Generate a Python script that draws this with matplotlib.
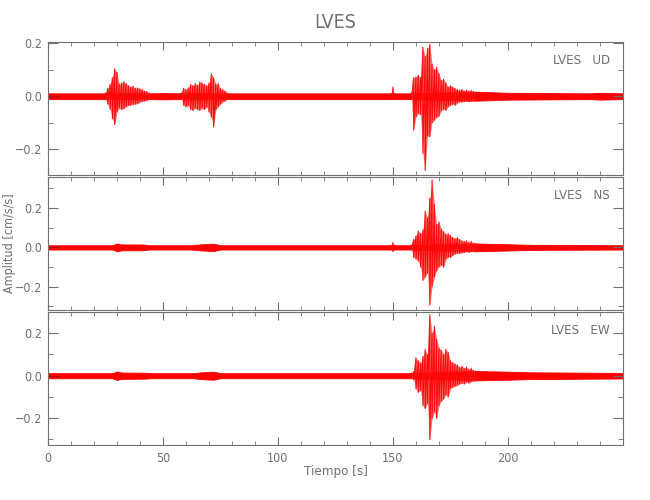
import numpy as np
import matplotlib
matplotlib.use("Agg")
import matplotlib.pyplot as plt
from matplotlib.ticker import MultipleLocator, FixedLocator

plt.rcParams['font.family'] = ['DejaVu Sans']
plt.rcParams['font.stretch'] = 'condensed'
plt.rcParams['font.weight'] = 'light'

station = "LVES"
components = ["UD", "NS", "EW"]
ylims = [(-0.298, 0.207), (-0.319, 0.361), (-0.326, 0.302)]
time_ticks = [0, 50, 100, 150, 200]

# background noise band (half width), per component
ud_noise_t = [0, 25, 44, 50, 58, 78, 158, 186, 200, 236, 240, 244, 250]
ud_noise_a = [0.011, 0.011, 0.011, 0.012, 0.011, 0.011, 0.011, 0.017, 0.013, 0.011, 0.013, 0.012, 0.011]
ns_noise_t = [0, 28, 30, 32, 41, 44, 62, 67, 72, 75, 158, 186, 200, 210, 250]
ns_noise_a = [0.011, 0.011, 0.02, 0.015, 0.015, 0.011, 0.011, 0.016, 0.019, 0.011, 0.011, 0.02, 0.016, 0.013, 0.011]
ew_noise_t = [0, 28, 30, 32, 42, 45, 63, 68, 72, 75, 158, 186, 200, 210, 250]
ew_noise_a = [0.012, 0.012, 0.02, 0.015, 0.014, 0.012, 0.012, 0.017, 0.019, 0.012, 0.012, 0.022, 0.019, 0.016, 0.013]

# peak-to-peak envelope of the waveform (max / min per second)
ud_t = [25, 26, 27, 28, 29, 30, 31, 32, 33, 34, 35, 36, 37, 38, 39, 40, 41, 42, 43, 44,
        58, 59, 60, 61, 62, 63, 64, 65, 66, 67, 68, 69, 70, 71, 72, 73, 74, 75, 76, 77, 78,
        149.5, 150, 150.5,
        158, 159, 160, 161, 162, 163, 164, 165, 166, 167, 168, 169, 170, 171, 172, 173, 174,
        175, 176, 177, 178, 179, 180, 181, 182, 183, 184, 185, 186]
ud_hi = [0.012, 0.03, 0.045, 0.07, 0.104, 0.09, 0.045, 0.05, 0.055, 0.048, 0.04, 0.035, 0.038, 0.03, 0.032, 0.028, 0.025, 0.02, 0.018, 0.012,
         0.012, 0.03, 0.025, 0.032, 0.045, 0.04, 0.048, 0.042, 0.054, 0.05, 0.045, 0.04, 0.05, 0.085, 0.07, 0.045, 0.048, 0.03, 0.025, 0.02, 0.012,
         0.01, 0.035, 0.01,
         0.012, 0.07, 0.073, 0.08, 0.07, 0.186, 0.15, 0.18, 0.196, 0.12, 0.10, 0.11, 0.085, 0.06, 0.065, 0.05, 0.035,
         0.04, 0.035, 0.03, 0.025, 0.023, 0.026, 0.02, 0.023, 0.02, 0.022, 0.018, 0.015]
ud_lo = [-0.012, -0.03, -0.05, -0.085, -0.107, -0.06, -0.045, -0.05, -0.046, -0.04, -0.035, -0.034, -0.03, -0.03, -0.028, -0.022, -0.02, -0.018, -0.015, -0.012,
         -0.012, -0.035, -0.04, -0.035, -0.05, -0.053, -0.045, -0.05, -0.053, -0.045, -0.05, -0.04, -0.06, -0.08, -0.116, -0.05, -0.04, -0.03, -0.021, -0.018, -0.012,
         -0.01, -0.01, -0.01,
         -0.012, -0.128, -0.078, -0.065, -0.07, -0.216, -0.28, -0.15, -0.153, -0.10, -0.09, -0.08, -0.075, -0.055, -0.05, -0.053, -0.04,
         -0.034, -0.03, -0.034, -0.025, -0.021, -0.022, -0.02, -0.018, -0.021, -0.018, -0.016, -0.015]

ns_t = [149.5, 150, 150.5,
        158, 159, 160, 161, 162, 163, 164, 165, 166, 167, 168, 169, 170, 171, 172, 173, 174,
        175, 176, 177, 178, 179, 180, 181, 182, 183, 184, 185, 186]
ns_hi = [0.01, 0.025, 0.01,
         0.012, 0.04, 0.059, 0.084, 0.07, 0.09, 0.185, 0.15, 0.25, 0.344, 0.218, 0.117, 0.13, 0.092, 0.08, 0.067, 0.07,
         0.06, 0.05, 0.045, 0.05, 0.04, 0.034, 0.03, 0.034, 0.025, 0.03, 0.022, 0.02]
ns_lo = [-0.01, -0.022, -0.01,
         -0.012, -0.05, -0.059, -0.07, -0.10, -0.168, -0.151, -0.13, -0.294, -0.2, -0.15, -0.118, -0.10, -0.09, -0.1, -0.06, -0.05,
         -0.05, -0.04, -0.034, -0.03, -0.03, -0.028, -0.025, -0.022, -0.025, -0.02, -0.02, -0.017]

ew_t = [158, 159, 160, 161, 162, 163, 164, 165, 166, 167, 168, 169, 170, 171, 172, 173, 174,
        175, 176, 177, 178, 179, 180, 181, 182, 183, 184, 185, 186]
ew_hi = [0.012, 0.02, 0.085, 0.07, 0.06, 0.09, 0.124, 0.1, 0.287, 0.2, 0.233, 0.17, 0.13, 0.12, 0.1, 0.124, 0.11,
         0.07, 0.062, 0.055, 0.05, 0.039, 0.045, 0.035, 0.04, 0.03, 0.035, 0.025, 0.023]
ew_lo = [-0.012, -0.02, -0.062, -0.078, -0.07, -0.14, -0.155, -0.13, -0.30, -0.2, -0.17, -0.2, -0.14, -0.12, -0.108, -0.09, -0.1,
         -0.06, -0.054, -0.05, -0.045, -0.039, -0.035, -0.039, -0.03, -0.035, -0.028, -0.025, -0.023]

noise = [(ud_noise_t, ud_noise_a), (ns_noise_t, ns_noise_a), (ew_noise_t, ew_noise_a)]
waves = [(ud_t, ud_hi, ud_lo), (ns_t, ns_hi, ns_lo), (ew_t, ew_hi, ew_lo)]

fig = plt.figure(figsize=(6.5, 5), dpi=100)
gray = "#707070"
left, width = 0.0738, 0.8846
bottoms = [0.65, 0.38, 0.11]
height = 0.267

for i in range(3):
    ax = fig.add_axes([left, bottoms[i], width, height])
    nt, na = noise[i]
    na = np.array(na)
    ax.fill_between(nt, -na, na, color="red", lw=0.6, edgecolor="red")

    t, hi, lo = (np.array(a) for a in waves[i])
    # draw each burst on its own: light envelope + zig-zag max/min
    cuts = np.where(np.diff(t) > 2)[0] + 1
    for ts, hs, ls in zip(np.split(t, cuts), np.split(hi, cuts), np.split(lo, cuts)):
        ax.fill_between(ts, ls, hs, color="#ff3a3a", alpha=0.7, lw=0)
        ax.plot(np.repeat(ts, 2), np.column_stack([hs, ls]).ravel(),
                color="red", lw=0.8, alpha=0.9)
    ax.axhline(0, color="#b00000", lw=0.6, xmax=0.02)

    ax.set_xlim(0, 250)
    ax.set_ylim(*ylims[i])
    ax.xaxis.set_major_locator(FixedLocator(time_ticks))
    ax.xaxis.set_minor_locator(MultipleLocator(10))
    ax.yaxis.set_major_locator(MultipleLocator(0.2))
    ax.yaxis.set_minor_locator(MultipleLocator(0.1))
    ax.tick_params(which="both", direction="in", top=True, right=True, color=gray,
                   labelcolor=gray, labelsize=9)
    ax.tick_params(axis="x", which="major", length=5.5, pad=5)
    ax.tick_params(axis="x", which="minor", length=3)
    ax.tick_params(axis="y", which="major", length=7, pad=4)
    ax.tick_params(axis="y", which="minor", length=3.5)
    for s in ax.spines.values():
        s.set_color(gray)
        s.set_linewidth(0.8)
    ax.yaxis.set_major_formatter(plt.FuncFormatter(lambda v, p: f"{v:.1f}".replace("-", "\u2212")))
    if i < 2:
        ax.set_xticklabels([])
    else:
        ax.set_xlabel("Tiempo [s]", color=gray, fontsize=9.5, labelpad=0)
    if i == 1:
        ax.set_ylabel("Amplitud [cm/s/s]", color=gray, fontsize=9)
        ax.yaxis.set_label_coords(-0.055, 0.5)
    if i == 0:
        ax.set_title(station, color=gray, fontsize=14, pad=10)
    ax.text(0.977, 0.855, f"{station}   {components[i]}", transform=ax.transAxes,
            ha="right", va="center", color=gray, fontsize=9.5)

fig.savefig("out.png", dpi=100)
